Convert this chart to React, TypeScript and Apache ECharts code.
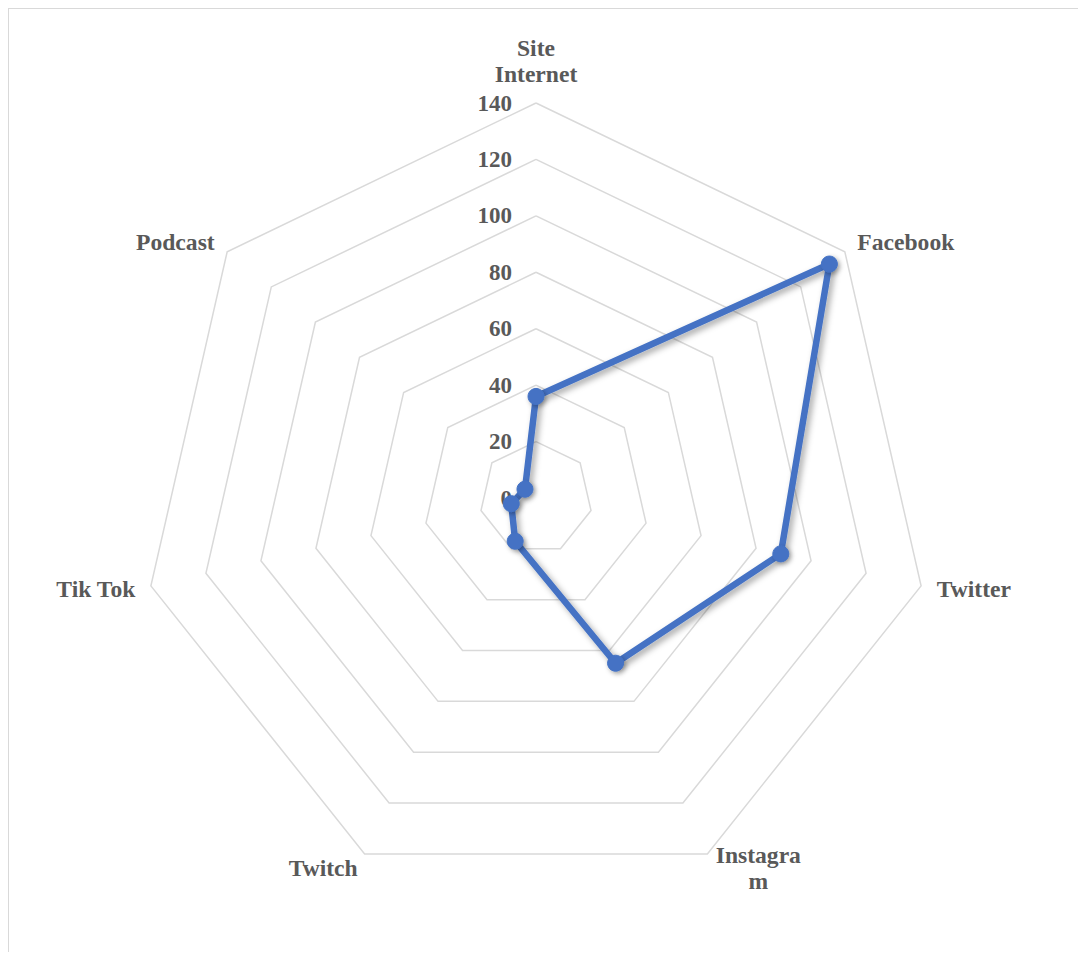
import React, { useEffect, useRef } from "react";
import * as echarts from "echarts";

const categories = ["Site Internet", "Facebook", "Twitter", "Instagram", "Twitch", "Tik Tok", "Podcast"];
const displayNames: Record<string, string> = {
  "Site Internet": "Site\nInternet",
  Instagram: "{c|Instagra}\n{c|m}",
};
const values = [36, 133, 89, 65, 17, 9, 5];
const axisMax = 140;
const tickInterval = 20;

export default function App() {
  const ref = useRef<HTMLDivElement>(null);
  useEffect(() => {
    const chart = echarts.init(ref.current!, null, { renderer: "svg" });
    const textColor = "#595959";
    const font = "'Liberation Serif', 'Times New Roman', serif";
    // ECharts lays out radar indicators counter-clockwise; reorder so they run clockwise
    const order = [0, ...categories.map((_, i) => i).slice(1).reverse()];
    const orderedCats = order.map((i) => categories[i]);
    const orderedVals = order.map((i) => values[i]);
    chart.setOption({
      animation: false,
      backgroundColor: "#ffffff",
      radar: {
        center: [527, 489],
        radius: 395,
        startAngle: 90,
        shape: "polygon",
        splitNumber: axisMax / tickInterval,
        nameGap: 16,
        indicator: orderedCats.map((c, i) => ({
          name: c,
          min: 0,
          max: axisMax,
          axisLabel: { show: i === 0 },
        })),
        axisName: {
          color: textColor,
          fontFamily: font,
          fontSize: 23.6,
          fontWeight: "bold",
          lineHeight: 26,
          formatter: (name: string) => displayNames[name] ?? name,
          rich: {
            c: {
              width: 88,
              align: "center",
              color: textColor,
              fontFamily: font,
              fontSize: 23.6,
              fontWeight: "bold",
              lineHeight: 26,
            },
          },
        },
        axisLine: { show: false },
        axisTick: { show: false },
        splitLine: { lineStyle: { color: "#d9d9d9", width: 1.5 } },
        splitArea: { show: false },
        axisLabel: {
          show: false,
          color: textColor,
          fontFamily: font,
          fontSize: 23,
          fontWeight: "bold",
          margin: 24,
        },
      },
      series: [
        {
          type: "radar",
          symbol: "circle",
          symbolSize: 16,
          z: 5,
          lineStyle: {
            color: "#4472C4",
            width: 6.5,
            shadowColor: "rgba(0,0,0,0.35)",
            shadowBlur: 6,
            shadowOffsetX: 3,
            shadowOffsetY: 3,
          },
          itemStyle: {
            color: "#4472C4",
            borderColor: "#4472C4",
            borderWidth: 1,
            shadowColor: "rgba(0,0,0,0.35)",
            shadowBlur: 5,
            shadowOffsetX: 2,
            shadowOffsetY: 2,
          },
          data: [{ value: orderedVals, name: "Audience" }],
        },
      ],
    });
    return () => chart.dispose();
  }, []);

  return (
    <div
      style={{
        width: 1078,
        height: 944,
        boxSizing: "border-box",
        borderTop: "1px solid #d9d9d9",
        borderLeft: "1px solid #d9d9d9",
        overflow: "hidden",
      }}
    >
      <div ref={ref} style={{ width: 1077, height: 943 }} />
    </div>
  );
}
